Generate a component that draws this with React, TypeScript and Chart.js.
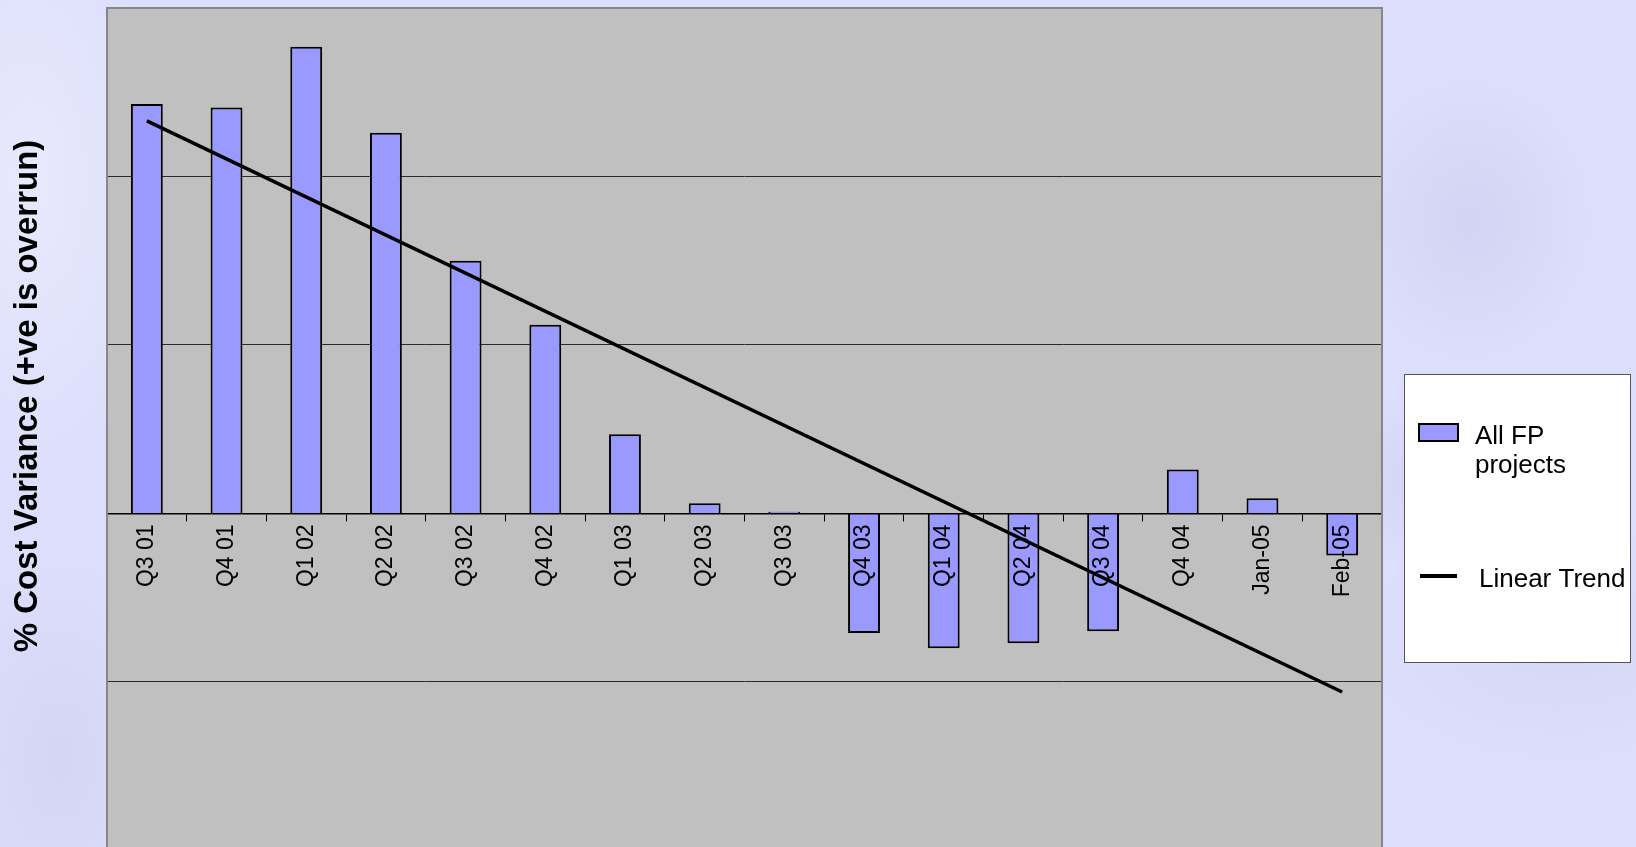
import React, { useEffect, useRef } from "react";
import { Chart, registerables } from "chart.js";

Chart.register(...registerables);

// Reporting periods along the category axis
const periods = [
  "Q3 01", "Q4 01", "Q1 02", "Q2 02", "Q3 02", "Q4 02", "Q1 03", "Q2 03",
  "Q3 03", "Q4 03", "Q1 04", "Q2 04", "Q3 04", "Q4 04", "Jan-05", "Feb-05",
];

// % cost variance of all fixed-price projects (+ve is overrun)
const allFpProjects = [
  24.3, 24.1, 27.7, 22.6, 15.0, 11.2, 4.7, 0.6,
  0.1, -7.1, -8.0, -7.7, -7.0, 2.6, 0.9, -2.5,
];

// Linear trend: value at the first and last period, gaps spanned
const linearTrend = [
  23.3, null, null, null, null, null, null, null,
  null, null, null, null, null, null, null, -10.6,
];

const yMin = -19.8;
const yMax = 30;
const yStep = 10;

const FONT = '"Liberation Sans", Arial, Helvetica, sans-serif';

const plotFrame = {
  id: "plotFrame",
  beforeDraw(chart: any) {
    const { ctx, chartArea: a } = chart;
    ctx.save();
    ctx.fillStyle = "#c0c0c0";
    ctx.fillRect(a.left, a.top, a.right - a.left, a.bottom - a.top);
    ctx.restore();
  },
  afterDraw(chart: any) {
    const { ctx, chartArea: a } = chart;
    ctx.save();
    ctx.strokeStyle = "#868686";
    ctx.lineWidth = 2;
    ctx.beginPath();
    ctx.moveTo(a.left, a.bottom + 2);
    ctx.lineTo(a.left, a.top);
    ctx.lineTo(a.right, a.top);
    ctx.lineTo(a.right, a.bottom + 2);
    ctx.stroke();

    // vertical axis title
    ctx.translate(28, 396);
    ctx.rotate(-Math.PI / 2);
    ctx.fillStyle = "#000";
    ctx.font = `bold 33px ${FONT}`;
    ctx.textAlign = "center";
    ctx.textBaseline = "middle";
    ctx.fillText("% Cost Variance (+ve is overrun)", 0, 0);
    ctx.restore();
  },
};

const boxedLegend = {
  id: "boxedLegend",
  afterDraw(chart: any) {
    const { ctx } = chart;
    const ds = chart.data.datasets;
    const box = { x: 1404, y: 374, w: 226, h: 288 };
    ctx.save();
    ctx.fillStyle = "#ffffff";
    ctx.fillRect(box.x, box.y, box.w, box.h);
    ctx.strokeStyle = "#555";
    ctx.lineWidth = 1;
    ctx.strokeRect(box.x + 0.5, box.y + 0.5, box.w, box.h);

    ctx.font = `26px ${FONT}`;
    ctx.fillStyle = "#000";
    ctx.textAlign = "left";
    ctx.textBaseline = "alphabetic";

    const wrap = (text: string, maxW: number) => {
      const words = text.split(" ");
      const lines: string[] = [];
      let cur = "";
      for (const w of words) {
        const t = cur ? cur + " " + w : w;
        if (ctx.measureText(t).width > maxW && cur) {
          lines.push(cur);
          cur = w;
        } else cur = t;
      }
      if (cur) lines.push(cur);
      return lines;
    };

    // bar series entry
    const bar = ds[0];
    ctx.fillStyle = bar.backgroundColor;
    ctx.fillRect(1419, 424, 39, 17);
    ctx.strokeStyle = "#000";
    ctx.lineWidth = 2;
    ctx.strokeRect(1419, 424, 39, 17);
    ctx.fillStyle = "#000";
    wrap(bar.label, 152).forEach((ln, i) => ctx.fillText(ln, 1475, 444 + i * 29));

    // trend entry
    const trend = ds[1];
    ctx.strokeStyle = trend.borderColor;
    ctx.lineWidth = 4;
    ctx.beginPath();
    ctx.moveTo(1420, 576);
    ctx.lineTo(1457, 576);
    ctx.stroke();
    wrap(trend.label, 152).forEach((ln, i) => ctx.fillText(ln, 1479, 587 + i * 29));
    ctx.restore();
  },
};

export default function App() {
  const canvasRef = useRef<HTMLCanvasElement | null>(null);

  useEffect(() => {
    const canvas = canvasRef.current;
    if (!canvas) return;
    const chart = new Chart(canvas, {
      type: "bar",
      data: {
        labels: periods,
        datasets: [
          {
            type: "bar",
            label: "All FP projects",
            data: allFpProjects,
            backgroundColor: "#9999ff",
            borderColor: "#000000",
            borderWidth: 2,
            barPercentage: 0.4,
            categoryPercentage: 1,
            order: 1,
          } as any,
          {
            type: "line",
            label: "Linear Trend",
            data: linearTrend,
            borderColor: "#000000",
            borderWidth: 3.5,
            pointRadius: 0,
            spanGaps: true,
            fill: false,
            order: 0,
          } as any,
        ],
      },
      options: {
        animation: false,
        responsive: false,
        maintainAspectRatio: false,
        layout: { padding: { left: 107, top: 8, right: 254, bottom: 0 } },
        plugins: {
          legend: { display: false },
          tooltip: { enabled: false },
          title: { display: false },
        },
        scales: {
          x: {
            position: { y: 0 } as any,
            offset: true,
            grid: {
              display: true,
              drawOnChartArea: false,
              drawTicks: true,
              tickLength: 7,
              color: "#000",
              lineWidth: 1,
              offset: true,
              z: 1,
            },
            border: { display: true, color: "#000", width: 1.5, z: 1 },
            ticks: {
              color: "#000",
              font: { family: FONT, size: 23 },
              minRotation: 90,
              maxRotation: 90,
              padding: 4,
              autoSkip: false,
              z: 1,
            },
          },
          y: {
            min: yMin,
            max: yMax,
            ticks: { display: false, stepSize: yStep },
            grid: {
              drawTicks: false,
              lineWidth: 1,
              color: (c: any) => {
                const v = c.tick?.value;
                if (v === undefined || v >= yMax) return "rgba(0,0,0,0)";
                return Math.abs(v % yStep) < 1e-6 ? "#2a2a2a" : "rgba(0,0,0,0)";
              },
            },
            border: { display: false },
          },
        },
      },
      plugins: [plotFrame, boxedLegend],
    });
    return () => chart.destroy();
  }, []);

  return (
    <div
      style={{
        position: "fixed",
        left: 0,
        top: 0,
        width: 1636,
        height: 847,
        overflow: "hidden",
        background:
          "radial-gradient(ellipse 120px 140px at 1470px 220px, rgba(195,195,230,0.4), rgba(195,195,230,0) 100%)," +
          "radial-gradient(ellipse 160px 90px at 1460px 480px, rgba(190,190,228,0.35), rgba(190,190,228,0) 100%)," +
          "radial-gradient(ellipse 200px 120px at 1560px 640px, rgba(198,198,234,0.3), rgba(198,198,234,0) 100%)," +
          "radial-gradient(ellipse 140px 300px at 30px 180px, rgba(240,240,255,0.6), rgba(240,240,255,0) 100%)," +
          "radial-gradient(ellipse 120px 200px at 60px 760px, rgba(200,200,232,0.4), rgba(200,200,232,0) 100%)," +
          "#dddefb",
      }}
    >
      <canvas ref={canvasRef} width={1636} height={847} style={{ display: "block" }} />
    </div>
  );
}
